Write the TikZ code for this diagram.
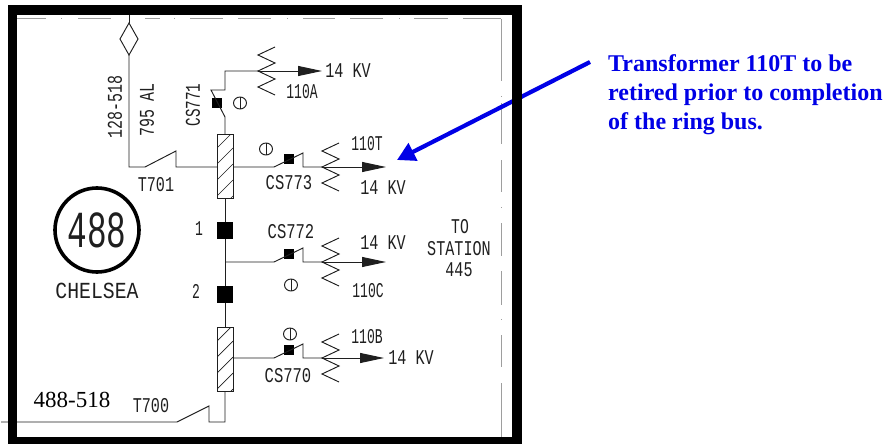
\documentclass[tikz,border=0pt]{standalone}
\usepackage{fontspec}
\usetikzlibrary{arrows.meta}
\setmainfont{Liberation Serif}
\newfontfamily\cadfont{Liberation Mono}
\definecolor{wire}{gray}{0.12}
\definecolor{cadgray}{gray}{0.62}
\definecolor{callout}{RGB}{0,0,230}
\newcommand\cad[2][0.72]{\scalebox{#1}[1]{\cadfont #2}}
\tikzset{
  wirel/.style={draw=wire,line width=0.95pt,line join=miter},
  cadlabel/.style={inner sep=0pt,text=wire,font=\fontsize{21}{21}\selectfont},
  bkr/.style={draw=none,fill=black,minimum size=#1,inner sep=0pt,outer sep=0pt},
  ctbox/.style={wirel,fill=white,minimum width=16pt,minimum height=64pt,inner sep=0pt,outer sep=0pt},
  outarrow/.style={wirel,-{Triangle[length=24pt,width=10pt]}},
  gridline/.style={draw=cadgray,line width=1pt},
  calltext/.style={anchor=base west,inner sep=0pt,text=callout,font=\bfseries\fontsize{24}{24}\selectfont},
  phase/.pic={\draw[wirel] (0,0) circle[x radius=6.5,y radius=6];\draw[wirel] (0,-6)--(0,6);}
}
\newcommand\hatchbox[3]{% name, x, y-top
  \node[ctbox,anchor=north] (#1) at (#2,#3) {};
  \begin{scope}
    \clip (#1.north west) rectangle (#1.south east);
    \foreach \d in {14,30,46,62,78}
      \draw[wirel,line width=0.7pt] ([yshift=-\d pt]#1.north west) -- ++(16,-16);
  \end{scope}
  \node[ctbox,anchor=north,fill=none] at (#2,#3) {};
}
% transformer coil with lead: name, x, y of line
\newcommand\coil[3]{%
  \coordinate (#1) at (#2,#3);
  \draw[wirel] (#2+17,#3-24)--(#2,#3-16)--(#2+17,#3-8)--(#2,#3)--(#2+17,#3+8)--(#2,#3+16)--(#2+17,#3+24);
}
\begin{document}
\begin{tikzpicture}[x=1pt,y=-1pt]
\useasboundingbox (0,0) rectangle (889,444);
\fill[white] (0,0) rectangle (889,444);

% dashed inner border
\foreach \a/\b in {17/46,78/111,145/160,190/223,238/271,303/335,350/383,414/448,463/501}
  \draw[gridline] (\a,19)--(\b,19);
\foreach \a in {61,174,287,399}
  \draw[gridline] (\a,19)--(\a+1,19);
\foreach \a/\b in {19/81,103/144,160/192,223/256,271/305,335/367,383/437}
  \draw[gridline] (501,\a)--(501,\b);
\foreach \a in {96,207,319}
  \draw[gridline] (501,\a)--(501,\a+1);

% bus and feeders
\coordinate (feedtop) at (129,15);
\coordinate (dtop) at (129,23);
\coordinate (dbot) at (129,55);
\coordinate (dl) at (120,39);
\coordinate (dr) at (138,39);
\draw[wirel] (dtop)--(dr)--(dbot)--(dl)--cycle;
\draw[wirel] (feedtop)--(dtop);

\hatchbox{ctA}{225}{134}
\hatchbox{ctB}{225}{327}
\node[bkr=16pt,minimum height=17pt] (b1) at (225,230.5) {};
\node[bkr=16pt,minimum height=17pt] (b2) at (225,294.5) {};
\coordinate (t701) at (176,167);
\draw[wirel] (dbot)--(129,167)--(145,167)--(176,151)--(t701)--(ctA.west |- t701);
\draw[wirel] (ctA.south)--(b1.north);
\draw[wirel] (b1.south)--(b2.north);
\draw[wirel] (b2.south)--(ctB.north);
\coordinate (leftend) at (1,422);
\draw[wirel] (ctB.south)--(225,422)--(209,422)--(209,406)--(177,422)--(leftend);

% CS771 / 110A
\node[bkr=10pt] (s771) at (217,103) {};
\coil{ta}{258}{71}
\coordinate (a14) at (322,71);
\draw[wirel] (ctA.north)--(225,117)--(211,90)--(225,90)--(225,71)--(ta);
\draw[outarrow] (ta)--(a14);

% CS773 / 110T
\node[bkr=10pt] (s773) at (289,159) {};
\coil{tt}{322}{167}
\coordinate (a15) at (386,167);
\draw[wirel] (ctA.east |- tt)--(274,167)--(303,153)--(303,167)--(tt);
\draw[outarrow] (tt)--(a15);

% CS772 / 110C
\node[bkr=10pt] (s772) at (289,254) {};
\coil{tc}{322}{262}
\coordinate (a16) at (386,262);
\coordinate (busc) at (225,262);
\draw[wirel] (busc)--(274,262)--(303,248)--(303,262)--(tc);
\draw[outarrow] (tc)--(a16);

% CS770 / 110B
\node[bkr=10pt] (s770) at (289,350) {};
\coil{tb}{322}{358}
\coordinate (a17) at (384,358);
\draw[wirel] (ctB.east |- tb)--(274,358)--(303,344)--(303,358)--(tb);
\draw[outarrow] (tb)--(a17);

% phase marks
\pic at (240,103) {phase};
\pic at (266,149) {phase};
\pic at (291,285) {phase};
\pic at (290,334) {phase};

% station circle
\node[circle,draw=black,line width=3.6pt,minimum size=84pt,inner sep=0pt,text=wire] (st) at (97,230)
  {\fontsize{52}{52}\selectfont\cad[0.63]{488}};

% labels
\node[cadlabel,rotate=90] (l1) at (115,107) {\cad[0.71]{128-518}};
\node[cadlabel,rotate=90] (l2) at (147,110) {\cad[0.71]{795 AL}};
\node[cadlabel,rotate=90] (l3) at (193,105) {\cad[0.68]{CS771}};
\node[cadlabel] (l4) at (156,185) {\cad{T701}};
\node[cadlabel] (l5) at (302,92) {\cad[0.62]{110A}};
\node[cadlabel] (l6) at (348,71) {\cad{14 KV}};
\node[cadlabel] (l7) at (367,144) {\cad[0.62]{110T}};
\node[cadlabel] (l8) at (383,188) {\cad{14 KV}};
\node[cadlabel] (l9) at (289,183) {\cad[0.74]{CS773}};
\node[cadlabel] (l10) at (199,229) {\cad[0.62]{1}};
\node[cadlabel] (l11) at (196,291) {\cad[0.62]{2}};
\node[cadlabel] (l12) at (97,291) {\fontsize{23}{23}\selectfont\cad[0.86]{CHELSEA}};
\node[inner sep=0pt,text=black,font=\fontsize{23}{23}\selectfont] (l13) at (72,400) {488-518};
\node[cadlabel] (l14) at (151,406) {\cad{T700}};
\node[cadlabel] (l15) at (291,232) {\cad[0.74]{CS772}};
\node[cadlabel] (l16) at (383,243) {\cad{14 KV}};
\node[cadlabel] (l17) at (368,291) {\cad[0.62]{110C}};
\node[cadlabel] (l18) at (460,227) {\cad[0.70]{TO}};
\node[cadlabel] (l19) at (459,249) {\cad[0.72]{STATION}};
\node[cadlabel] (l20) at (459,270) {\cad[0.72]{445}};
\node[cadlabel] (l21) at (367,337) {\cad[0.62]{110B}};
\node[cadlabel] (l22) at (411,358) {\cad{14 KV}};
\node[cadlabel] (l23) at (288,376) {\cad[0.74]{CS770}};

% callout
\coordinate (calltail) at (590,62);
\coordinate (calltip) at (397,160);
\draw[callout,line width=4.2pt,-{Triangle[length=18pt,width=19pt]}] (calltail)--(calltip);

% thick frame, above the callout
\draw[black,line width=9.5pt,miter limit=10] (12.5,10) rectangle (517,441.5);

\node[calltext] (c1) at (608,72) {Transformer 110T to be};
\node[calltext] (c2) at (608,100) {retired prior to completion};
\node[calltext] (c3) at (608,129) {of the ring bus.};
\end{tikzpicture}
\end{document}
